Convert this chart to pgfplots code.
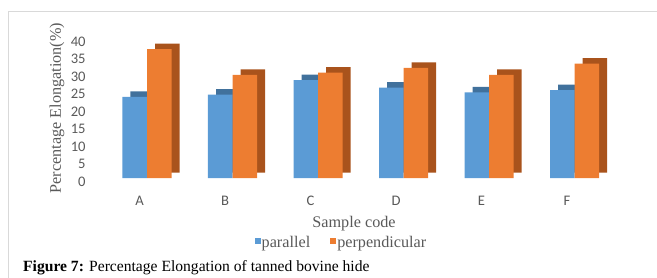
\documentclass[border=0pt]{standalone}
\usepackage{pgfplots}
\pgfplotsset{compat=1.18}
\usepackage{fontspec}
\setmainfont{Liberation Serif}
\newfontfamily\carlito{Carlito}
\definecolor{tickgrey}{HTML}{595959}
\definecolor{framegrey}{HTML}{D9D9D9}
\definecolor{bluefront}{HTML}{5B9BD5}
\definecolor{bluedepth}{HTML}{41719C}
\definecolor{orangefront}{HTML}{ED7D31}
\definecolor{orangedepth}{HTML}{A9531C}
\begin{document}
\begin{tikzpicture}
\useasboundingbox (0,0) rectangle (657pt,277pt);
\draw[framegrey, line width=1pt] (8.5pt,-1pt) -- (8.5pt,265.3pt) -- (658pt,265.3pt);
\begin{axis}[
  at={(87.15pt,99pt)}, anchor=south west,
  scale only axis, width=547.2pt, height=140pt,
  xmin=-0.7, xmax=5.7, ymin=0, ymax=40,
  clip=false,
  axis line style={draw=none}, tick style={draw=none},
  xtick={0,1,2,3,4,5}, xticklabels={A,B,C,D,E,F},
  ytick={0,5,...,40},
  /pgf/number format/assume math mode=true,
  ticklabel style={font=\carlito\fontsize{14.6}{16}\selectfont, text=tickgrey},
  xticklabel style={anchor=center, yshift=-23pt, xshift=-7.5pt},
  yticklabel style={anchor=east, xshift=2pt, yshift=-3.7pt},
  xlabel={Sample code}, ylabel={Percentage Elongation(\%)},
  every axis x label/.style={at={(axis description cs:0.4877,-0.3286)}, anchor=center,
    font=\rmfamily\fontsize{16.2}{18}\selectfont, text=tickgrey},
  every axis y label/.style={at={(axis description cs:-0.0551,0.5)}, anchor=center, rotate=90,
    font=\rmfamily\fontsize{16.2}{18}\selectfont, text=tickgrey},
  legend columns=2,
  legend style={at={(axis description cs:0.4639,-0.464)}, anchor=center, draw=none, fill=none,
    font=\rmfamily\fontsize{16.2}{18}\selectfont, text=tickgrey,
    nodes={inner sep=1pt},
    /tikz/every even column/.append style={column sep=19pt}},
  legend image code/.code={\fill[#1] (0pt,-1pt) rectangle (6pt,5pt);},
]
% depth faces (parallel)
\addplot[ybar, fill=bluedepth, draw=none, bar width=24.5pt, bar shift=-12.25pt, xshift=8pt, yshift=5.5pt, forget plot]
  coordinates {(0,23.2) (1,23.8) (2,28.0) (3,25.8) (4,24.5) (5,25.1)};
% front faces (parallel)
\addplot[ybar, fill=bluefront, draw=none, bar width=24.5pt, bar shift=-12.25pt]
  coordinates {(0,23.2) (1,23.8) (2,28.0) (3,25.8) (4,24.5) (5,25.1)};
\addlegendentry{parallel}
% depth faces (perpendicular)
\addplot[ybar, fill=orangedepth, draw=none, bar width=24.5pt, bar shift=12.25pt, xshift=8pt, yshift=5.5pt, forget plot]
  coordinates {(0,36.8) (1,29.5) (2,30.1) (3,31.5) (4,29.5) (5,32.7)};
% front faces (perpendicular)
\addplot[ybar, fill=orangefront, draw=none, bar width=24.5pt, bar shift=12.25pt]
  coordinates {(0,36.8) (1,29.5) (2,30.1) (3,31.5) (4,29.5) (5,32.7)};
\addlegendentry{perpendicular}
\end{axis}
\node[anchor=base west, inner sep=0pt, font=\fontsize{15.6}{18}\selectfont] at (23pt,5.5pt)
  {\textbf{Figure 7:} Percentage Elongation of tanned bovine hide};
\end{tikzpicture}
\end{document}
